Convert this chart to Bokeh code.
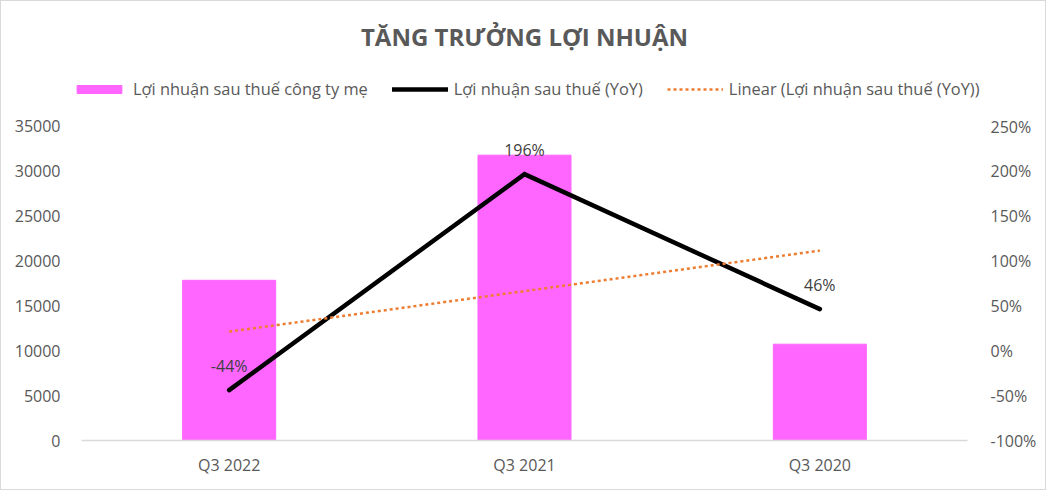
import numpy as np
from bokeh.plotting import figure
from bokeh.layouts import column
from bokeh.models import (FactorRange, Range1d, LinearAxis, FixedTicker, Label,
                          NumeralTickFormatter, Legend, LegendItem, ColumnDataSource)
from bokeh.embed import file_html
from bokeh.resources import INLINE

# Quarterly data
quarters = ["Q3 2022", "Q3 2021", "Q3 2020"]
net_profit = [17800, 31700, 10700]          # Lợi nhuận sau thuế công ty mẹ
yoy_growth = [-0.44, 1.96, 0.46]            # Lợi nhuận sau thuế (YoY)
yoy_labels = ["-44%", "196%", "46%"]

left_ticks = [0, 5000, 10000, 15000, 20000, 25000, 30000, 35000]
right_ticks = [-1.0, -0.5, 0.0, 0.5, 1.0, 1.5, 2.0, 2.5]

FONT = "Open Sans"
TEXT = "#595959"
GRID = "#D9D9D9"
BAR = "#FF66FF"
TREND = "#ED7D31"

W = 1046
HEAD_H = 115
MAIN_H = 375
HEAD_LEFT = 70

# Linear trend of the YoY series across the quarters
idx = np.arange(1, len(quarters) + 1)
slope, intercept = np.polyfit(idx, yoy_growth, 1)
trend = list(slope * idx + intercept)

# ---- main chart -------------------------------------------------------------
p = figure(width=W, height=MAIN_H, x_range=FactorRange(*quarters),
           y_range=Range1d(0, 35000), output_backend="svg", toolbar_location=None,
           min_border_left=80, min_border_right=80, min_border_bottom=50,
           min_border_top=10)
p.extra_y_ranges = {"pct": Range1d(-1.0, 2.5)}
p.outline_line_color = None
p.xgrid.grid_line_color = None
p.ygrid.grid_line_color = None
p.styles = {"border-left": f"1px solid {GRID}", "border-right": f"1px solid {GRID}",
            "border-bottom": f"1px solid {GRID}", "box-sizing": "border-box"}

p.vbar(x=quarters, top=net_profit, width=0.315, color=BAR)

src = ColumnDataSource(dict(x=quarters, y=yoy_growth, lbl=yoy_labels))
p.line("x", "y", source=src, y_range_name="pct", line_color="black",
       line_width=4.5, line_cap="round", line_join="miter")
p.text("x", "y", text="lbl", source=src, y_range_name="pct", text_align="center",
       text_baseline="middle", y_offset=-24, text_font_size="16px",
       text_color="#404040", text_font={"value": FONT})

p.line(x=[quarters[0], quarters[-1]], y=[trend[0], trend[-1]],
       y_range_name="pct", line_color=TREND, line_width=2.5, line_dash="3 3")

ax = p.yaxis[0]
ax.ticker = FixedTicker(ticks=left_ticks)
ax.formatter = NumeralTickFormatter(format="0")
right = LinearAxis(y_range_name="pct", ticker=FixedTicker(ticks=right_ticks),
                   formatter=NumeralTickFormatter(format="0%"))
p.add_layout(right, "right")
for a in (ax, right):
    a.axis_line_color = None
    a.major_tick_line_color = None
    a.minor_tick_line_color = None
    a.major_label_text_font = FONT
    a.major_label_text_font_size = "16px"
    a.major_label_text_color = TEXT
ax.major_label_standoff = 15
right.major_label_standoff = 17
xa = p.xaxis[0]
xa.axis_line_color = GRID
xa.axis_line_width = 1.5
xa.major_tick_line_color = None
xa.minor_tick_line_color = None
xa.major_label_text_font = FONT
xa.major_label_text_font_size = "16px"
xa.major_label_text_color = TEXT
xa.major_label_standoff = 7

# ---- header: title and legend -----------------------------------------------
head = figure(width=W, height=HEAD_H, x_range=Range1d(0, 1), y_range=Range1d(0, HEAD_H),
              x_axis_type=None, y_axis_type=None, output_backend="svg",
              toolbar_location=None, min_border_left=HEAD_LEFT, min_border_right=20,
              min_border_top=0, min_border_bottom=0)
head.grid.visible = False
head.outline_line_color = None
head.styles = {"border-left": f"1px solid {GRID}", "border-right": f"1px solid {GRID}",
               "border-top": f"1px solid {GRID}", "box-sizing": "border-box"}

# keep the header's frame independent of the chart's frame
free_frame = "frame_align" in head.properties()
if free_frame:
    head.frame_align = False
    p.frame_align = False
frame_left = HEAD_LEFT if free_frame else 80

head.add_layout(Label(x=W / 2 - frame_left, y=HEAD_H - 35, x_units="screen",
                      y_units="data", text="TĂNG TRƯỞNG LỢI NHUẬN", text_align="center",
                      text_baseline="middle", text_font=FONT, text_font_size="24px",
                      text_font_style="bold", text_color=TEXT))

# legend keys styled like the series in the chart
nan = [float("nan")]
key_bar = head.vbar(x=nan, top=nan, width=0.1, color=BAR)
key_line = head.line(x=nan, y=nan, line_color="black", line_width=4.5, line_cap="round")
key_trend = head.line(x=nan, y=nan, line_color=TREND, line_width=2.5, line_dash="3 3")

legend = Legend(items=[
    LegendItem(label="Lợi nhuận sau thuế công ty mẹ", renderers=[key_bar]),
    LegendItem(label="Lợi nhuận sau thuế (YoY)", renderers=[key_line]),
    LegendItem(label="Linear (Lợi nhuận sau thuế (YoY))", renderers=[key_trend]),
], orientation="horizontal", location=(0, 16))
legend.label_text_font = FONT
legend.label_text_color = TEXT
legend.glyph_height = 10
legend.label_standoff = 6
if free_frame:
    legend.label_text_font_size = "16.4px"
    legend.glyph_width = 56
    legend.spacing = 24
else:
    legend.label_text_font_size = "16px"
    legend.glyph_width = 48
    legend.spacing = 18
legend.border_line_color = None
legend.background_fill_alpha = 0
legend.padding = 4
legend.margin = 0
head.add_layout(legend, "center")

page = column(head, p, spacing=0)

open("out.html", "w").write(file_html(page, INLINE))
